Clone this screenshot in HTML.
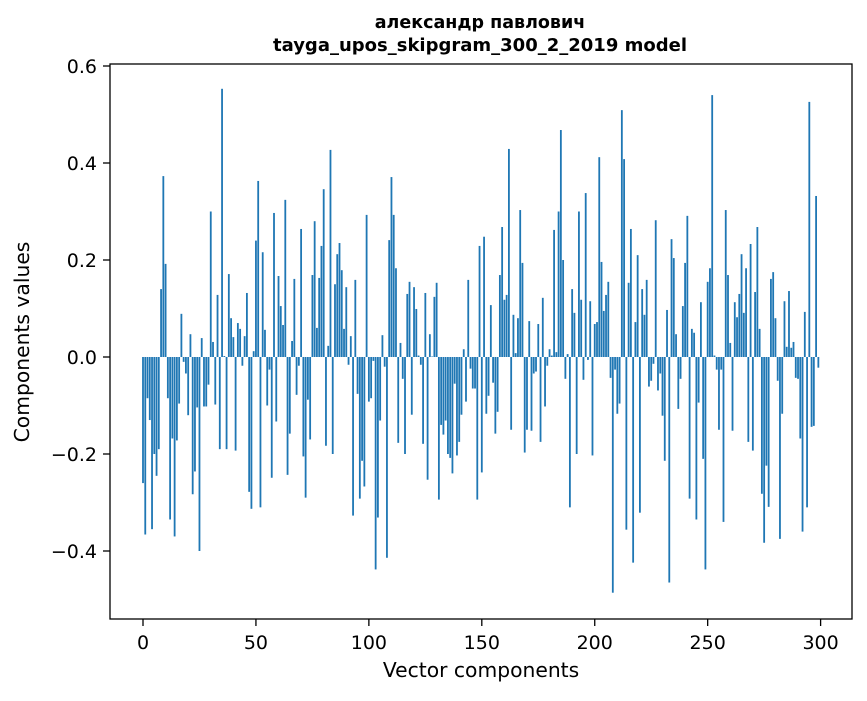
<!DOCTYPE html>
<html><head><meta charset="utf-8"><style>
body{margin:0;background:#fff;}
svg text{font-family:"DejaVu Sans","Liberation Sans",sans-serif;fill:#000;}
</style></head><body>
<svg id="chart" width="867" height="696" xmlns="http://www.w3.org/2000/svg">
<rect width="867" height="696" fill="#fff"/>
<text x="480" y="28" text-anchor="middle" font-size="17.5" font-weight="bold">александр павлович</text>
<text x="480" y="51" text-anchor="middle" font-size="18" font-weight="bold">tayga_upos_skipgram_300_2_2019 model</text>
<g id="bars"></g>
<rect x="110" y="64" width="742" height="555" fill="none" stroke="#000" stroke-width="1.3"/>
<g id="xt"></g>
<g id="yt"></g>
<text x="481" y="677" text-anchor="middle" font-size="20.3">Vector components</text>
<text transform="translate(29,342) rotate(-90)" text-anchor="middle" font-size="20.3">Components values</text>
</svg>
<script>
const values = [-0.26,-0.366,-0.085,-0.13,-0.355,-0.2,-0.245,-0.19,0.14,0.373,0.192,-0.085,-0.335,-0.168,-0.37,-0.172,-0.096,0.089,-0.01,-0.034,-0.12,0.047,-0.283,-0.236,-0.104,-0.40,0.039,-0.102,-0.102,-0.057,0.30,0.031,-0.098,0.128,-0.19,0.553,0.002,-0.19,0.171,0.08,0.041,-0.193,0.07,0.058,-0.018,0.043,0.132,-0.278,-0.313,0.012,0.24,
0.363,-0.31,0.216,0.056,-0.1,-0.026,-0.249,0.297,-0.133,0.167,0.105,0.066,0.324,-0.243,-0.158,0.033,0.161,-0.078,-0.018,0.264,-0.205,-0.29,-0.088,-0.17,0.169,0.28,0.06,0.163,0.229,0.346,-0.183,0.023,0.427,-0.2,0.15,0.212,0.235,0.179,0.058,0.144,-0.016,0.043,-0.327,0.159,-0.076,-0.292,-0.214,-0.267,0.293,-0.092,
-0.085,-0.008,-0.438,-0.331,-0.131,0.045,-0.02,-0.414,0.241,0.371,0.293,0.183,-0.177,0.029,-0.045,-0.2,0.13,0.155,-0.119,0.144,0.099,0.003,-0.016,-0.179,0.132,-0.253,0.047,0.001,0.124,0.153,-0.294,-0.14,-0.16,-0.131,-0.2,-0.208,-0.24,-0.055,-0.203,-0.175,-0.119,0.016,-0.092,0.159,-0.024,-0.065,-0.065,-0.294,0.229,-0.238,
0.248,-0.117,-0.08,0.107,-0.053,-0.158,-0.113,0.169,0.268,0.118,0.128,0.429,-0.15,0.087,0.008,0.08,0.303,0.194,-0.197,-0.15,0.074,-0.152,-0.034,-0.03,0.068,-0.175,0.122,-0.102,-0.018,0.016,0.003,0.262,0.01,0.3,0.468,0.2,-0.045,0.006,-0.31,0.14,0.091,-0.2,0.3,0.118,-0.047,0.338,-0.006,0.115,-0.203,0.068,
0.072,0.412,0.196,0.095,0.128,0.155,-0.043,-0.486,-0.026,-0.117,-0.096,0.509,0.408,-0.356,0.153,0.264,-0.424,0.072,0.21,-0.321,0.14,0.087,0.159,-0.061,-0.049,-0.014,0.282,-0.069,-0.034,-0.121,-0.214,0.097,-0.465,0.243,0.204,0.047,-0.107,-0.045,0.105,0.194,0.291,-0.292,0.058,0.05,-0.335,-0.094,0.113,-0.21,-0.438,0.155,0.183,0.54,
0.003,-0.026,-0.15,-0.026,-0.34,0.303,0.169,0.029,-0.152,0.113,0.082,0.13,0.212,0.091,0.183,-0.175,0.233,-0.193,0.134,0.268,0.058,-0.282,-0.383,-0.224,-0.309,0.161,0.175,0.08,-0.049,-0.375,-0.117,0.115,0.021,0.136,0.019,0.031,-0.043,-0.045,-0.168,-0.36,0.093,-0.31,0.526,-0.144,-0.142,0.332,-0.022];
const xTicks = [0,50,100,150,200,250,300];
const yTicks = [-0.4,-0.2,0.0,0.2,0.4,0.6];
const yTickLabels = ["\u22120.4","\u22120.2","0.0","0.2","0.4","0.6"];

const NS="http://www.w3.org/2000/svg";
const xs = v => 143 + v*2.2587;
const ys = v => 357 - v*485;
const bw = 0.8*2.2587;
const bars=document.getElementById('bars');
values.forEach((v,i)=>{
  const r=document.createElementNS(NS,'rect');
  
  
  const y0=ys(0), y1=ys(v);
  r.setAttribute('x',xs(i)-bw/2);
  r.setAttribute('y',Math.min(y0,y1));
  r.setAttribute('width',bw);
  r.setAttribute('height',Math.abs(y1-y0));
  r.setAttribute('fill','#1f77b4');
  bars.appendChild(r);
});
const xt=document.getElementById('xt');
xTicks.forEach(t=>{
  const l=document.createElementNS(NS,'line');
  
  
  l.setAttribute('x1',xs(t));l.setAttribute('x2',xs(t));
  l.setAttribute('y1',619);l.setAttribute('y2',626);
  l.setAttribute('stroke','#000');l.setAttribute('stroke-width','1.3');
  xt.appendChild(l);
  const tx=document.createElementNS(NS,'text');
  
  
  tx.setAttribute('x',xs(t));tx.setAttribute('y',649);
  tx.setAttribute('text-anchor','middle');tx.setAttribute('font-size','19');
  tx.textContent=t;
  xt.appendChild(tx);
});
const yt=document.getElementById('yt');
yTicks.forEach((t,i)=>{
  const l=document.createElementNS(NS,'line');
  
  
  l.setAttribute('x1',103);l.setAttribute('x2',110);
  l.setAttribute('y1',ys(t));l.setAttribute('y2',ys(t));
  l.setAttribute('stroke','#000');l.setAttribute('stroke-width','1.3');
  yt.appendChild(l);
  const tx=document.createElementNS(NS,'text');
  
  
  tx.setAttribute('x',97);tx.setAttribute('y',ys(t)+7);
  tx.setAttribute('text-anchor','end');tx.setAttribute('font-size','19');
  tx.textContent=yTickLabels[i];
  yt.appendChild(tx);
});
</script>
</body></html>
